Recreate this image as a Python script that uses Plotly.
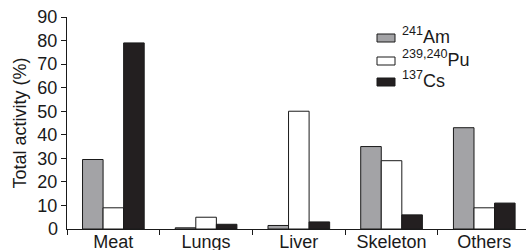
import plotly.graph_objects as go

categories = ["Meat", "Lungs", "Liver", "Skeleton", "Others"]
am241 = [29.5, 0.5, 1.5, 35, 43]
pu239 = [9, 5, 50, 29, 9]
cs137 = [79, 2, 3, 6, 11]
series_names = ["<sup>241</sup>Am", "<sup>239,240</sup>Pu", "<sup>137</sup>Cs"]
series_colors = ["#a3a3a6", "#ffffff", "#231f20"]
y_ticks = [0, 10, 20, 30, 40, 50, 60, 70, 80, 90]

FONT = "Liberation Sans, Arial, sans-serif"
fig = go.Figure()
for name, vals, col in zip(series_names, [am241, pu239, cs137], series_colors):
    fig.add_trace(go.Bar(x=categories, y=vals, name=name,
                         marker=dict(color=col, line=dict(color="#1a1a1a", width=1)),
                         showlegend=False))

# custom legend (page coords -> paper coords; plot area spans page x 67..526, y 17..229)
leg_y = [38, 61, 82]
for i, (name, col) in enumerate(zip(series_names, series_colors)):
    yc = leg_y[i]
    fig.add_shape(type="rect", xref="paper", yref="paper",
                  x0=(377-67)/459, x1=(395-67)/459,
                  y0=(229-(yc+4))/212, y1=(229-(yc-4))/212,
                  fillcolor=col, line=dict(color="#1a1a1a", width=1))
    fig.add_annotation(xref="paper", yref="paper", x=(400-67)/459, y=(229-(yc-3))/212,
                       text=name, showarrow=False, xanchor="left", yanchor="middle",
                       font=dict(family=FONT, size=18, color="#1a1a1a"))

# corner tick label (first y tick) drawn explicitly at the bottom of the y axis
fig.add_annotation(xref="paper", yref="paper", x=0, y=0, xshift=-7,
                   text=str(y_ticks[0]), showarrow=False, xanchor="right", yanchor="middle",
                   font=dict(family=FONT, size=18, color="#1a1a1a"))

fig.update_layout(
    width=526, height=250,
    margin=dict(l=67, r=0, t=17, b=21),
    template="none",
    plot_bgcolor="white", paper_bgcolor="white",
    bargap=0.335, bargroupgap=0, barmode="group",
    font=dict(family=FONT, size=18, color="#1a1a1a"),
    xaxis=dict(range=[-0.5, 4.45], tickson="boundaries", ticks="outside", ticklen=5,
               tickcolor="#1a1a1a", showline=True, linecolor="#1a1a1a", linewidth=1,
               showgrid=False, zeroline=False, automargin=False, ticklabeloverflow="allow",
               ticklabelstandoff=-4,
               tickfont=dict(family=FONT, size=18, color="#1a1a1a")),
    yaxis=dict(range=[0, 90], tickvals=y_ticks[1:], ticks="outside", ticklen=5,
               tickcolor="#1a1a1a", showline=True, linecolor="#1a1a1a", linewidth=1,
               showgrid=False, zeroline=False, automargin=False, ticklabeloverflow="allow",
               tickfont=dict(family=FONT, size=18, color="#1a1a1a"),
               title=dict(text="Total activity (%)", standoff=6,
                          font=dict(family=FONT, size=18, color="#1a1a1a"))),
)
fig.write_html("out.html", config={"displayModeBar": False},
               post_script="document.body.style.margin='0';document.body.style.overflow='hidden';")
